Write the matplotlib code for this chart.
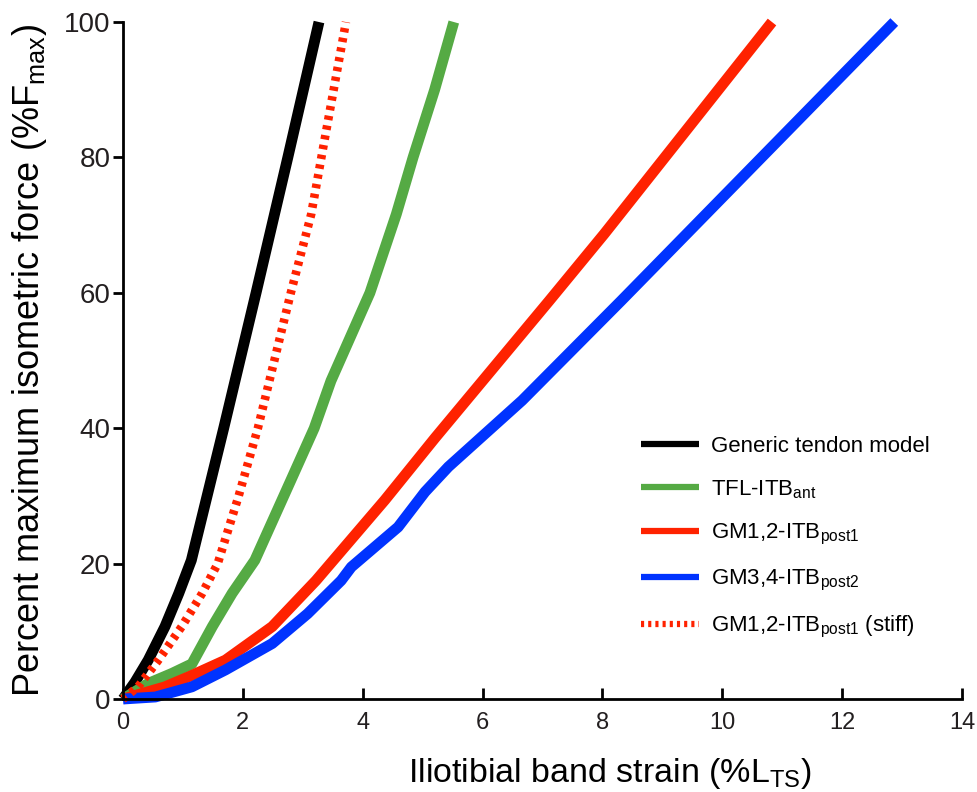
import matplotlib
matplotlib.use("Agg")
import matplotlib.pyplot as plt

plt.rcParams['font.family'] = ['Liberation Sans', 'DejaVu Sans']
plt.rcParams['mathtext.fontset'] = 'custom'
plt.rcParams['mathtext.rm'] = 'Liberation Sans'
plt.rcParams['mathtext.it'] = 'Liberation Sans:italic'

# strain (%L_TS) vs force (%F_max) for each tendon curve
generic_x = [0, 0.2, 0.42, 0.70, 0.93, 1.14, 1.68, 2.22, 2.75, 3.27]
generic_y = [0, 2.5, 5.75, 10.7, 15.6, 20.5, 40, 60, 80, 100]

tfl_x = [0, 0.42, 0.82, 1.15, 1.49, 1.82, 2.20, 2.80, 3.19, 3.47, 4.12, 4.56, 4.84, 5.20, 5.52]
tfl_y = [0, 2.3, 3.8, 5.2, 10.7, 15.6, 20.5, 32.3, 40, 47, 60, 71.6, 80, 90, 100]

gm12_x = [0, 0.31, 0.70, 1.10, 1.71, 2.49, 3.22, 4.37, 5.21, 7.11, 8.03, 10.83]
gm12_y = [0, 0.8, 1.8, 3.3, 5.75, 10.7, 17.5, 29.4, 38.6, 58.8, 68.7, 100]

gm34_x = [0, 0.54, 1.15, 1.71, 2.49, 3.08, 3.64, 3.81, 4.59, 5.04, 5.43, 6.66, 8.31, 12.87]
gm34_y = [0, 0.3, 1.8, 4.3, 8.2, 12.6, 17.5, 19.5, 25.4, 30.6, 34.3, 44.1, 58.8, 100]

stiff_x = [0, 0.25, 0.59, 0.98, 1.32, 1.58, 1.93, 2.25, 2.80, 3.14, 3.31, 3.72]
stiff_y = [0, 1.8, 5.75, 10.7, 15.6, 20, 30, 40, 60, 71.6, 80, 100]

labels = ['Generic tendon model',
          r'TFL-ITB$_{\mathrm{ant}}$',
          r'GM1,2-ITB$_{\mathrm{post1}}$',
          r'GM3,4-ITB$_{\mathrm{post2}}$',
          r'GM1,2-ITB$_{\mathrm{post1}}$ (stiff)']

black = '#000000'
green = '#55AA44'
red = '#FF2200'
blue = '#0033FF'

fig = plt.figure(figsize=(9.78, 7.92), dpi=100)
ax = fig.add_axes([0.1258, 0.1174, 0.8578, 0.8548])

lw = 7.8
ax.plot(generic_x, generic_y, color=black, lw=lw, solid_capstyle='butt', clip_on=False, label=labels[0])
ax.plot(tfl_x, tfl_y, color=green, lw=lw, solid_capstyle='butt', clip_on=False, label=labels[1])
ax.plot(gm12_x, gm12_y, color=red, lw=lw, solid_capstyle='butt', clip_on=False, label=labels[2])
ax.plot(gm34_x, gm34_y, color=blue, lw=lw, solid_capstyle='butt', clip_on=False, label=labels[3])
ax.plot(stiff_x, stiff_y, color=red, lw=6.2, dashes=(0.5, 0.65), dash_capstyle='butt',
        clip_on=False, label=labels[4])

ax.set_xlim(0, 14)
ax.set_ylim(0, 100)
ax.set_xticks(range(0, 15, 2))
ax.set_yticks(range(0, 101, 20))

for s in ['top', 'right']:
    ax.spines[s].set_visible(False)
for s in ['left', 'bottom']:
    ax.spines[s].set_linewidth(2)

ax.tick_params(axis='y', direction='out', length=7, width=2, pad=2, labelsize=20, labelcolor='#231f20')
ax.tick_params(axis='x', direction='in', length=8, width=2, pad=9, labelsize=17, labelcolor='#231f20')

ax.set_xlabel(r'Iliotibial band strain (%L$_{\mathrm{TS}}$)', fontsize=24.5)
ax.xaxis.set_label_coords(0.58, -0.084)
ax.set_ylabel(r'Percent maximum isometric force (%F$_{\mathrm{max}}$)', fontsize=26)
ax.yaxis.set_label_coords(-0.088, 0.5)

leg = ax.legend(loc='upper left', bbox_to_anchor=(0.594, 0.418), frameon=False, fontsize=16,
                handlelength=2.6, handletextpad=0.55, labelspacing=0.95)
for h in leg.get_lines():
    h.set_linewidth(4.5)

fig.savefig('out.png', dpi=100)
